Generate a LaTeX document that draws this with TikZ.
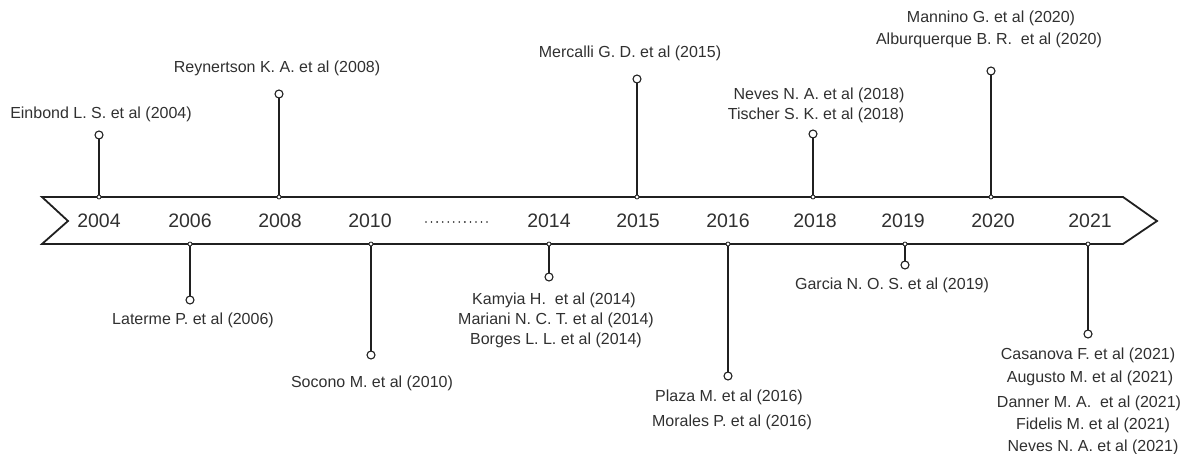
\documentclass[tikz,border=0pt]{standalone}
\usepackage{fontspec}
\setmainfont{Liberation Sans}
\definecolor{txt}{HTML}{303030}
\definecolor{ln}{HTML}{202020}
\begin{document}
\begin{tikzpicture}[x=1pt,y=-1pt,
  lbl/.style={font=\fontsize{16}{18}\selectfont, text=txt, inner sep=0pt},
  yr/.style={font=\fontsize{19.5}{22}\selectfont, text=txt, inner sep=0pt},
  endc/.style={circle, draw=ln, fill=white, minimum size=8pt, inner sep=0pt, line width=1.1pt},
  jc/.style={circle, draw=ln, fill=white, minimum size=4pt, inner sep=0pt, line width=0.8pt},
  stemline/.style={draw=ln, line width=1.4pt},
  arrowline/.style={draw=ln, line width=1.8pt, line join=miter}
]
\useasboundingbox (0,0) rectangle (1187,454);
% timeline arrow
\draw[arrowline] (42,197) -- (1123,197) -- (1157,221) -- (1123,244) -- (42,244) -- (68,221) -- cycle;
% years
\node[yr] (y04) at (99,221) {2004};
\node[yr] (y06) at (190,221) {2006};
\node[yr] (y08) at (280,221) {2008};
\node[yr] (y10) at (370,221) {2010};
\node[yr] (y14) at (549,221) {2014};
\node[yr] (y15) at (638,221) {2015};
\node[yr] (y16) at (728,221) {2016};
\node[yr] (y18) at (815,221) {2018};
\node[yr] (y19) at (903,221) {2019};
\node[yr] (y20) at (993,221) {2020};
\node[yr] (y21) at (1090,221) {2021};
% dots
\foreach \i in {0,...,11} \fill[ln] (426+\i*5.55,222) circle (0.9);
% junctions and end circles
\coordinate (j04) at (99,197);  \coordinate (e04c) at (99,135);
\coordinate (j08) at (279,197); \coordinate (e08c) at (279,94);
\coordinate (j15) at (637,197); \coordinate (e15c) at (637,79);
\coordinate (j18) at (813,197); \coordinate (e18c) at (813,134);
\coordinate (j20) at (991,197); \coordinate (e20c) at (991,71);
\coordinate (j06) at (190,244); \coordinate (e06c) at (190,300);
\coordinate (j10) at (371,244); \coordinate (e10c) at (371,355);
\coordinate (j14) at (549,244); \coordinate (e14c) at (549,277);
\coordinate (j16) at (728,244); \coordinate (e16c) at (728,376);
\coordinate (j19) at (905,244); \coordinate (e19c) at (905,265);
\coordinate (j21) at (1088,244); \coordinate (e21c) at (1088,334);
\foreach \k in {04,08,15,18,20,06,10,14,16,19,21} {
  \draw[stemline] (j\k) -- (e\k c);
  \node[jc] (jn\k) at (j\k) {};
  \node[endc] (en\k) at (e\k c) {};
}
% labels above
\node[lbl] (l04) at (101,114) {Einbond L. S. et al (2004)};
\node[lbl] (l08) at (277,68) {Reynertson K. A. et al (2008)};
\node[lbl] (l15) at (630,53) {Mercalli G. D. et al (2015)};
\node[lbl] (l18a) at (819,95) {Neves N. A. et al (2018)};
\node[lbl] (l18b) at (816,115) {Tischer S. K. et al (2018)};
\node[lbl] (l20a) at (991,18) {Mannino G. et al (2020)};
\node[lbl] (l20b) at (989,40) {Alburquerque B. R.\ \ et al (2020)};
% labels below
\node[lbl] (l06) at (193,320) {Laterme P. et al (2006)};
\node[lbl] (l10) at (372,383) {Socono M. et al (2010)};
\node[lbl] (l14a) at (554,300) {Kamyia H.\ \ et al (2014)};
\node[lbl] (l14b) at (556,320) {Mariani N. C. T. et al (2014)};
\node[lbl] (l14c) at (556,340) {Borges L. L. et al (2014)};
\node[lbl] (l16a) at (729,397) {Plaza M. et al (2016)};
\node[lbl] (l16b) at (732,422) {Morales P. et al (2016)};
\node[lbl] (l19) at (892,285) {Garcia N. O. S. et al (2019)};
\node[lbl] (l21a) at (1088,355) {Casanova F. et al (2021)};
\node[lbl] (l21b) at (1090,378) {Augusto M. et al (2021)};
\node[lbl] (l21c) at (1089,403) {Danner M. A.\ \ et al (2021)};
\node[lbl] (l21d) at (1093,425) {Fidelis M. et al (2021)};
\node[lbl] (l21e) at (1093,447) {Neves N. A. et al (2021)};
\end{tikzpicture}
\end{document}
